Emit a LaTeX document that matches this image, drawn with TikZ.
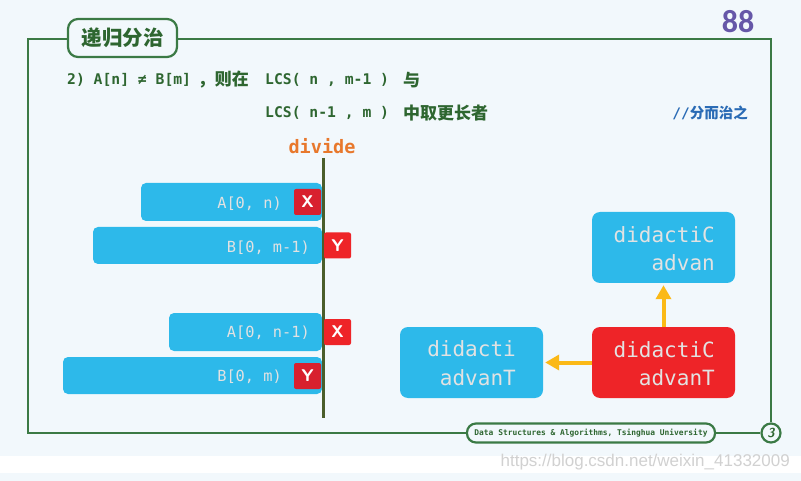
\documentclass[tikz,border=0pt]{standalone}
\usepackage{fontspec}
\setmonofont{DejaVu Sans Mono}
\newfontfamily\cjk{Noto Sans CJK SC}
\newfontfamily\numfont{Carlito}
\newfontfamily\wmfont{Liberation Sans}
\usetikzlibrary{arrows.meta}
\definecolor{bg}{HTML}{F2F8FC}
\definecolor{frame}{HTML}{3B7A45}
\definecolor{dgreen}{HTML}{2E6630}
\definecolor{barblue}{HTML}{2DB9EA}
\definecolor{xred}{HTML}{D8202E}
\definecolor{bred}{HTML}{EE2428}
\definecolor{lgray}{HTML}{E2E2E2}
\definecolor{ygold}{HTML}{FBB917}
\definecolor{orng}{HTML}{E8782C}
\definecolor{purp}{HTML}{6657A8}
\definecolor{cblue}{HTML}{2A6BB5}
\definecolor{divline}{HTML}{4B5E2B}
\tikzset{
  bar/.style={fill=barblue, rounded corners=5pt, inner sep=0pt},
  bartext/.style={font=\ttfamily\fontsize{15.3}{15.3}\selectfont, text=lgray, inner sep=0pt, anchor=east},
  tag/.style={fill=xred, rounded corners=2pt, minimum width=27pt, minimum height=26pt, inner sep=0pt, text=white, font=\sffamily\bfseries\fontsize{17}{17}\selectfont},
  bigbox/.style={rounded corners=8pt, minimum width=143pt, minimum height=71pt, inner sep=0pt},
  boxtext/.style={font=\ttfamily\fontsize{21}{21}\selectfont, text=lgray, inner sep=0pt, anchor=east},
  yarrow/.style={draw=ygold, line width=4pt, -{Triangle[length=14pt,width=15pt]}},
  frm/.style={draw=frame, line width=2.2pt},
  line1/.style={font=\ttfamily\bfseries\fontsize{14.7}{14.7}\selectfont, text=dgreen, inner sep=0pt},
  cjkt/.style={font=\cjk\bfseries\fontsize{17}{17}\selectfont, text=dgreen, inner sep=0pt},
}
\begin{document}
\begin{tikzpicture}[x=1pt,y=-1pt]
\useasboundingbox (0,0) rectangle (801,481);
\fill[bg] (0,0) rectangle (801,481);
\fill[white] (0,456) rectangle (801,473);
% frame
\coordinate (tl) at (28,39);
\coordinate (bl) at (28,433);
\node[frm, fill=bg, rounded corners=10pt, minimum width=109pt, minimum height=38pt, inner sep=0pt,
  font=\cjk\bfseries\fontsize{20.5}{20.5}\selectfont, text=dgreen] (title) at (122.5,38) {递归分治};
\node[frm, fill=bg, rounded corners=9pt, minimum width=248pt, minimum height=19pt, inner sep=0pt,
  font=\ttfamily\bfseries\fontsize{7.9}{7.9}\selectfont, text=dgreen] (foot) at (591,433) {Data Structures \& Algorithms, Tsinghua University};
\node[frm, fill=bg, circle, minimum size=19pt, inner sep=0pt, font=\sffamily\bfseries\itshape\fontsize{13}{13}\selectfont, text=dgreen] (pg) at (771,433) {3};
\coordinate (tr) at (771,39);
\draw[frm] (title.west |- tl) -- (tl) -- (bl) -- (foot.west);
\draw[frm] (title.east |- tr) -- (tr) -- (pg.north);
\draw[frm] (foot.east) -- (pg.west);
% number
\node[font=\numfont\bfseries\fontsize{32}{32}\selectfont, text=purp, inner sep=0pt] (num) at (738,22) {88};
% header text
\node[line1, anchor=west] (l1a) at (67,80) {2) A[n] ≠ B[m]};
\node[cjkt, anchor=east] (l1b) at (249,80) {，则在};
\node[line1, anchor=west] (l1c) at (265,80) {LCS( n , m-1 )};
\node[cjkt, anchor=west] (l1d) at (403,80) {与};
\node[line1, anchor=west] (l2a) at (265,113) {LCS( n-1 , m )};
\node[cjkt, anchor=west] (l2b) at (403,113) {中取更长者};
\node[font=\ttfamily\bfseries\fontsize{14.5}{14.5}\selectfont, text=cblue, inner sep=0pt, anchor=east] (l2c) at (748,113) {//\cjk 分而治之};
% divide
\node[font=\ttfamily\bfseries\fontsize{18.5}{18.5}\selectfont, text=orng, inner sep=0pt] (div) at (322,146) {divide};
\coordinate (dtop) at (323,158);
\coordinate (dbot) at (323,418);
% bars
\node[bar, minimum width=181pt, minimum height=38pt] (a1) at (231.5,202) {};
\node[bartext] (a1t) at (282,204) {A[0, n)};
\node[bar, minimum width=229pt, minimum height=37pt] (b1) at (207.5,245.5) {};
\node[bartext] (b1t) at (310,248) {B[0, m-1)};
\node[bar, minimum width=153pt, minimum height=38pt] (a2) at (245.5,332) {};
\node[bartext] (a2t) at (310,333) {A[0, n-1)};
\node[bar, minimum width=259pt, minimum height=37pt] (b2) at (192.5,375.5) {};
\node[bartext] (b2t) at (282,377) {B[0, m)};
\draw[divline, line width=3pt] (dtop) -- (dbot);
\node[tag] (x1) at (307.5,202) {X};
\node[tag, fill=bred] (y1) at (337.5,245.5) {Y};
\node[tag, fill=bred] (x2) at (337.5,332) {X};
\node[tag] (y2) at (307.5,376) {Y};
% right boxes
\node[bigbox, fill=barblue] (top) at (663.5,247.5) {};
\node[bigbox, fill=bred] (red) at (663.5,362.5) {};
\node[bigbox, fill=barblue] (left) at (471.5,362.5) {};
\node[boxtext] (t1) at (715,235) {didactiC};
\node[boxtext] (t2) at (715,263) {advan};
\node[boxtext] (r1) at (715,350) {didactiC};
\node[boxtext] (r2) at (715,378) {advanT};
\node[boxtext] (e1) at (516,349) {didacti};
\node[boxtext] (e2) at (516,378) {advanT};
\draw[yarrow] (red.north) -- ([yshift=-2pt]top.south);
\draw[yarrow] (red.west) -- ([xshift=2pt]left.east);
% watermark
\node[font=\wmfont\fontsize{17}{17}\selectfont, text=black!18, inner sep=0pt, anchor=east] (wm) at (790,462) {https://blog.csdn.net/weixin\_41332009};
\end{tikzpicture}
\end{document}
